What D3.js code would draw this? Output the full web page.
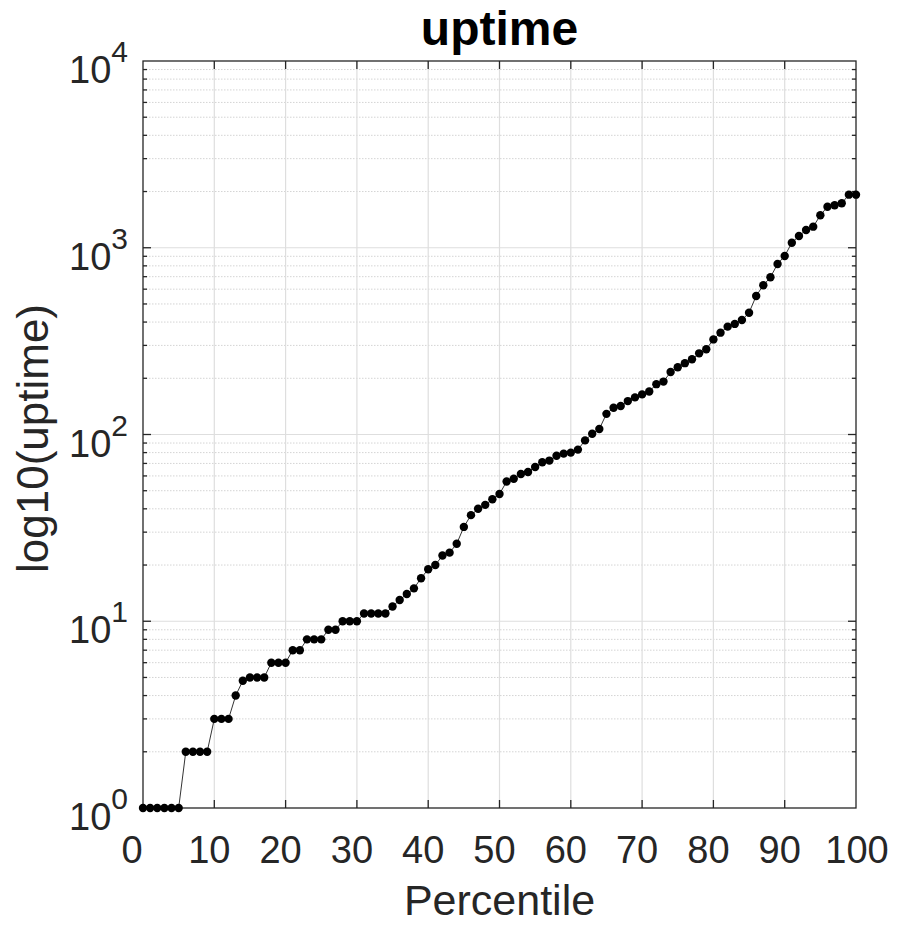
<!DOCTYPE html>
<html>
<head>
<meta charset="utf-8">
<script src="https://cdn.jsdelivr.net/npm/d3@7"></script>
<style>
  html, body { margin: 0; padding: 0; background: #fff; }
  svg { display: block; font-family: "Liberation Sans", Arial, Helvetica, sans-serif; }
</style>
</head>
<body>
<svg id="chart" width="898" height="925"></svg>
<script>
// Percentile positions and the uptime value at each one
const percentiles = [
  0, 1, 2, 3, 4, 5, 6, 7, 8, 9,
  10, 11, 12, 13, 14, 15, 16, 17, 18, 19,
  20, 21, 22, 23, 24, 25, 26, 27, 28, 29,
  30, 31, 32, 33, 34, 35, 36, 37, 38, 39,
  40, 41, 42, 43, 44, 45, 46, 47, 48, 49,
  50, 51, 52, 53, 54, 55, 56, 57, 58, 59,
  60, 61, 62, 63, 64, 65, 66, 67, 68, 69,
  70, 71, 72, 73, 74, 75, 76, 77, 78, 79,
  80, 81, 82, 83, 84, 85, 86, 87, 88, 89,
  90, 91, 92, 93, 94, 95, 96, 97, 98, 99,
  100
];
const uptime = [
  1, 1, 1, 1, 1, 1, 2, 2, 2, 2,
  3, 3, 3, 4, 4.8, 5, 5, 5, 6, 6,
  6, 7, 7, 8, 8, 8, 9, 9, 10, 10,
  10, 11, 11, 11, 11, 12, 13, 14, 15, 17,
  19, 20, 22.5, 23.3, 26, 32, 37, 40, 42, 45,
  48, 56, 58, 61.5, 63, 67, 71, 72.5, 77, 79,
  80, 83, 93, 101, 107, 129, 139, 142, 151, 158,
  164, 170, 186, 192, 216, 229, 241, 253, 272, 286,
  323, 351, 378, 391, 410, 449, 552, 630, 695, 819,
  903, 1064, 1156, 1245, 1297, 1492, 1659, 1688, 1730, 1924,
  1924
];
const xTicks = [0, 10, 20, 30, 40, 50, 60, 70, 80, 90, 100];
const yTicks = [1, 10, 100, 1000, 10000];
const yTickExponents = ["0", "1", "2", "3", "4"];

const titleText = "uptime";
const xLabelText = "Percentile";
const yLabelText = "log10(uptime)";

const svg = d3.select("#chart");
const plot = { left: 143, right: 856, top: 61, bottom: 808 };
const axisColor = "#262626";

const x = d3.scaleLinear().domain([0, 100]).range([plot.left, plot.right]);
const y = d3.scaleLog().domain([1, 10000]).range([plot.bottom, plot.top]);

// minor ticks: 2..9 inside each decade
const minorTicks = [];
for (let d = 0; d < yTicks.length - 1; d++) {
  for (let m = 2; m <= 9; m++) minorTicks.push(yTicks[d] * m);
}

svg.append("rect").attr("width", 898).attr("height", 925).attr("fill", "#fff");

const grid = svg.append("g");
// minor horizontal grid (dotted)
grid.selectAll("line.minor").data(minorTicks).join("line")
  .attr("class", "minor")
  .attr("x1", plot.left).attr("x2", plot.right)
  .attr("y1", d => y(d)).attr("y2", d => y(d))
  .attr("stroke", "#d4d4d4").attr("stroke-width", 1)
  .attr("stroke-dasharray", "1.5,1.5");
// major horizontal grid
grid.selectAll("line.hmajor").data(yTicks.slice(1, -1)).join("line")
  .attr("class", "hmajor")
  .attr("x1", plot.left).attr("x2", plot.right)
  .attr("y1", d => y(d)).attr("y2", d => y(d))
  .attr("stroke", "#dedede").attr("stroke-width", 1.2);
// major vertical grid
grid.selectAll("line.vmajor").data(xTicks.slice(1, -1)).join("line")
  .attr("class", "vmajor")
  .attr("y1", plot.top).attr("y2", plot.bottom)
  .attr("x1", d => x(d)).attr("x2", d => x(d))
  .attr("stroke", "#dedede").attr("stroke-width", 1.2);

// axes box
svg.append("rect")
  .attr("x", plot.left).attr("y", plot.top)
  .attr("width", plot.right - plot.left).attr("height", plot.bottom - plot.top)
  .attr("fill", "none").attr("stroke", axisColor).attr("stroke-width", 1.3);

// inward ticks on all four sides
const ticks = svg.append("g").attr("stroke", axisColor).attr("stroke-width", 1.3);
xTicks.slice(1, -1).forEach(t => {
  ticks.append("line").attr("x1", x(t)).attr("x2", x(t)).attr("y1", plot.bottom).attr("y2", plot.bottom - 8);
  ticks.append("line").attr("x1", x(t)).attr("x2", x(t)).attr("y1", plot.top).attr("y2", plot.top + 8);
});
yTicks.slice(1, -1).forEach(t => {
  ticks.append("line").attr("x1", plot.left).attr("x2", plot.left + 8).attr("y1", y(t)).attr("y2", y(t));
  ticks.append("line").attr("x1", plot.right).attr("x2", plot.right - 8).attr("y1", y(t)).attr("y2", y(t));
});
minorTicks.forEach(t => {
  ticks.append("line").attr("x1", plot.left).attr("x2", plot.left + 4).attr("y1", y(t)).attr("y2", y(t));
  ticks.append("line").attr("x1", plot.right).attr("x2", plot.right - 4).attr("y1", y(t)).attr("y2", y(t));
});

// x tick labels
svg.append("g").selectAll("text").data(xTicks).join("text")
  .attr("x", d => x(d) + (String(d).length - 2) * 6 - 5)
  .attr("y", plot.bottom + 55)
  .attr("text-anchor", "middle")
  .attr("font-size", 38)
  .attr("fill", axisColor)
  .text(d => d);

// y tick labels as powers of ten
const yLab = svg.append("g").selectAll("text").data(yTicks).join("text")
  .attr("x", plot.left - 15)
  .attr("y", d => y(d) + 22)
  .attr("text-anchor", "end")
  .attr("font-size", 38)
  .attr("fill", axisColor);
yLab.append("tspan").text("10");
yLab.append("tspan")
  .attr("dy", -21)
  .attr("font-size", 30)
  .text((d, i) => yTickExponents[i]);

// connecting line
const line = d3.line()
  .x((d, i) => x(percentiles[i]))
  .y(d => y(d));
svg.append("path")
  .datum(uptime)
  .attr("d", line)
  .attr("fill", "none")
  .attr("stroke", "#000")
  .attr("stroke-width", 0.8);

// markers
svg.append("g").selectAll("circle").data(uptime).join("circle")
  .attr("cx", (d, i) => x(percentiles[i]))
  .attr("cy", d => y(d))
  .attr("r", 4.2)
  .attr("fill", "#000");

// title and axis labels
svg.append("text")
  .attr("x", (plot.left + plot.right) / 2)
  .attr("y", 45)
  .attr("text-anchor", "middle")
  .attr("font-size", 48)
  .attr("font-weight", "bold")
  .attr("fill", "#000")
  .text(titleText);

svg.append("text")
  .attr("x", (plot.left + plot.right) / 2)
  .attr("y", 915)
  .attr("text-anchor", "middle")
  .attr("font-size", 43)
  .attr("fill", axisColor)
  .text(xLabelText);

svg.append("text")
  .attr("transform", `translate(48, ${(plot.top + plot.bottom) / 2 + 4}) rotate(-90)`)
  .attr("text-anchor", "middle")
  .attr("font-size", 44)
  .attr("fill", axisColor)
  .text(yLabelText);
</script>
</body>
</html>
